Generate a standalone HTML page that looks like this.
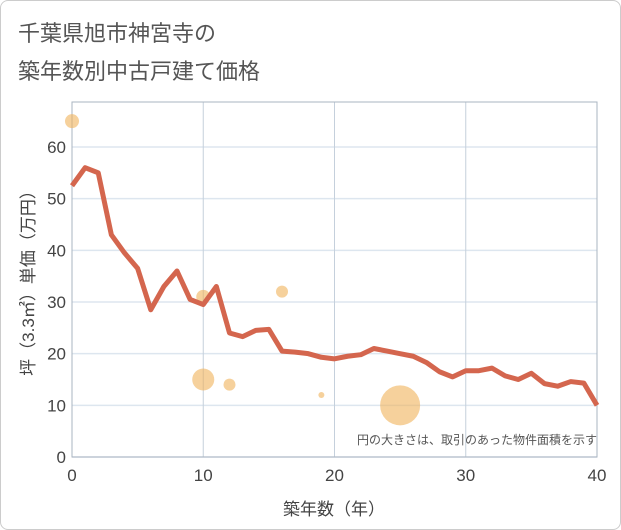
<!DOCTYPE html>
<html><head><meta charset="utf-8"><style>
body{margin:0;background:#fff;}
#wrap{width:619px;height:528px;border:1px solid #ccc;border-radius:8px;position:relative;background:#fff;overflow:hidden}
text{font-family:"Liberation Sans","Noto Sans CJK JP",sans-serif;}
</style></head><body>
<div id="wrap">
<svg id="c" width="621" height="530">
<text x="17" y="40" font-size="22" fill="#555">千葉県旭市神宮寺の</text>
<text x="17" y="78" font-size="22" fill="#555">築年数別中古戸建て価格</text>
<g id="grid"></g><g id="marks"></g>
<text x="596" y="443" font-size="12" fill="#555" text-anchor="end">円の大きさは、取引のあった物件面積を示す</text>
<text x="333" y="514" font-size="17" fill="#444" text-anchor="middle">築年数（年）</text>
<text transform="translate(33,278) rotate(-90)" font-size="17" fill="#444" text-anchor="middle">坪（3.3㎡）単価（万円）</text>
</svg></div>
<script>
const years=[0,1,2,3,4,5,6,7,8,9,10,11,12,13,14,15,16,17,18,19,20,21,22,23,24,25,26,27,28,29,30,31,32,33,34,35,36,37,38,39,40];
const prices=[52.5,56,55,43,39.5,36.5,28.5,33,36,30.5,29.5,33,24,23.3,24.5,24.7,20.5,20.3,20,19.3,19,19.5,19.8,21,20.5,20,19.5,18.3,16.5,15.5,16.7,16.7,17.2,15.7,15,16.2,14.2,13.7,14.6,14.3,10];
const bubbleX=[0,10,10,12,16,19,25];
const bubbleY=[65,31,15,14,32,12,10];
const bubbleR=[7,7,11,6,6,3,20];
const xTicks=[0,10,20,30,40];
const yTicks=[0,10,20,30,40,50,60];
const L=71,R=596,T=101,B=456;
const sx=v=>L+(R-L)*v/40, sy=v=>B-(B-146)*v/60;
const NS="http://www.w3.org/2000/svg";
const grid=document.getElementById('grid'),marks=document.getElementById('marks');
function mk(p,tag,a){const e=document.createElementNS(NS,tag);for(const k in a)e.setAttribute(k,a[k]);p.appendChild(e);return e;}
yTicks.forEach(v=>{const l=mk(grid,'line',{x1:L,x2:R,y1:sy(v),y2:sy(v),stroke:'#dde6ef','stroke-width':1.5});


const t=mk(grid,'text',{x:L-6,y:sy(v)+6,'font-size':17,fill:'#444','text-anchor':'end'});t.textContent=v;

});
xTicks.forEach(v=>{const l=mk(grid,'line',{x1:sx(v),x2:sx(v),y1:T,y2:B,stroke:'#c5d0dc','stroke-width':1});


const t=mk(grid,'text',{x:sx(v),y:B+24,'font-size':17,fill:'#444','text-anchor':'middle'});t.textContent=v;

});
const fr=mk(grid,'rect',{x:L,y:T,width:R-L,height:B-T,fill:'none',stroke:'#aab4c0','stroke-width':1});


bubbleX.forEach((x,i)=>{const c=mk(marks,'circle',{cx:sx(x),cy:sy(bubbleY[i]),r:bubbleR[i],fill:'#f0b35a','fill-opacity':0.6});

});
const p=mk(marks,'polyline',{points:years.map((y,i)=>sx(y)+','+sy(prices[i])).join(' '),fill:'none',stroke:'#d4664e','stroke-width':5,'stroke-linejoin':'round'});


</script>
</body></html>
